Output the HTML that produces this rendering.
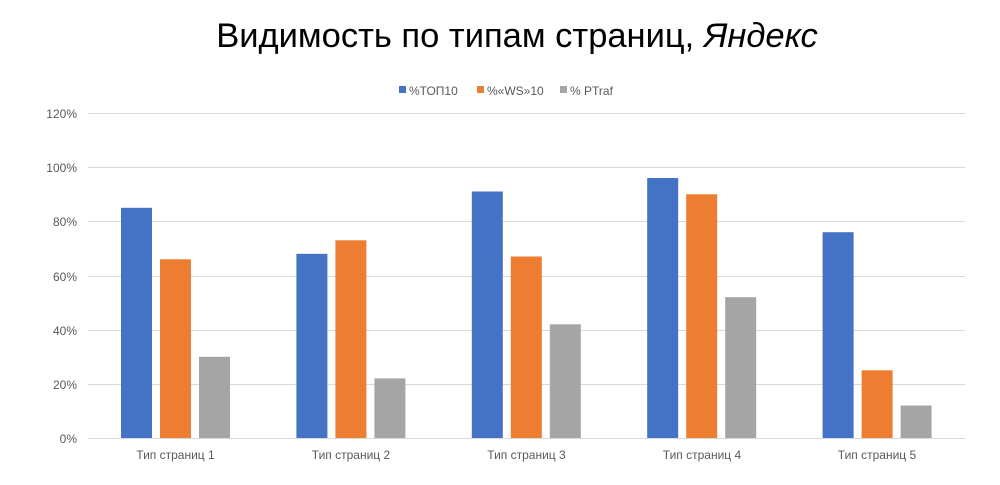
<!DOCTYPE html>
<html><head><meta charset="utf-8"><style>body{margin:0;background:#fff}svg{display:block}</style></head>
<body>
<svg width="1000" height="485" xmlns="http://www.w3.org/2000/svg" font-family="Liberation Sans, sans-serif">
<text x="517" y="47" font-size="34.5" text-anchor="middle" fill="#000">Видимость по типам страниц, <tspan font-style="italic">Яндекс</tspan></text>
<g fill="#595959" font-size="12">
<rect x="399" y="86" width="7" height="7" fill="#4472c4"/><text x="409" y="95">%ТОП10</text>
<rect x="477" y="86" width="7" height="7" fill="#ed7d31"/><text x="487" y="95">%«WS»10</text>
<rect x="560" y="86" width="7" height="7" fill="#a5a5a5"/><text x="570" y="95">% PTraf</text>
</g>
<g stroke="#d9d9d9" stroke-width="1">
<line x1="88" x2="965" y1="113.5" y2="113.5"/><line x1="88" x2="965" y1="167.5" y2="167.5"/>
<line x1="88" x2="965" y1="221.5" y2="221.5"/><line x1="88" x2="965" y1="276.5" y2="276.5"/>
<line x1="88" x2="965" y1="330.5" y2="330.5"/><line x1="88" x2="965" y1="384.5" y2="384.5"/>
<line x1="88" x2="965" y1="438.5" y2="438.5"/>
</g>
<g fill="#595959" font-size="12" text-anchor="end">
<text x="77" y="118">120%</text><text x="77" y="172">100%</text><text x="77" y="226">80%</text>
<text x="77" y="281">60%</text><text x="77" y="335">40%</text><text x="77" y="389">20%</text><text x="77" y="443">0%</text>
</g>
<g>
<rect x="121" y="207.8" width="31" height="230.2" fill="#4472c4"/>
<rect x="160" y="259.3" width="31" height="178.7" fill="#ed7d31"/>
<rect x="199" y="356.8" width="31" height="81.2" fill="#a5a5a5"/>
<rect x="296.4" y="253.8" width="31" height="184.2" fill="#4472c4"/>
<rect x="335.4" y="240.3" width="31" height="197.7" fill="#ed7d31"/>
<rect x="374.4" y="378.4" width="31" height="59.6" fill="#a5a5a5"/>
<rect x="471.8" y="191.5" width="31" height="246.5" fill="#4472c4"/>
<rect x="510.8" y="256.5" width="31" height="181.5" fill="#ed7d31"/>
<rect x="549.8" y="324.3" width="31" height="113.7" fill="#a5a5a5"/>
<rect x="647.2" y="178" width="31" height="260" fill="#4472c4"/>
<rect x="686.2" y="194.3" width="31" height="243.7" fill="#ed7d31"/>
<rect x="725.2" y="297.2" width="31" height="140.8" fill="#a5a5a5"/>
<rect x="822.6" y="232.2" width="31" height="205.8" fill="#4472c4"/>
<rect x="861.6" y="370.3" width="31" height="67.7" fill="#ed7d31"/>
<rect x="900.6" y="405.5" width="31" height="32.5" fill="#a5a5a5"/>
</g>
<g fill="#595959" font-size="12" text-anchor="middle">
<text x="175.5" y="459">Тип страниц 1</text><text x="351" y="459">Тип страниц 2</text>
<text x="526.5" y="459">Тип страниц 3</text><text x="702" y="459">Тип страниц 4</text>
<text x="877" y="459">Тип страниц 5</text>
</g>
</svg>
</body></html>
